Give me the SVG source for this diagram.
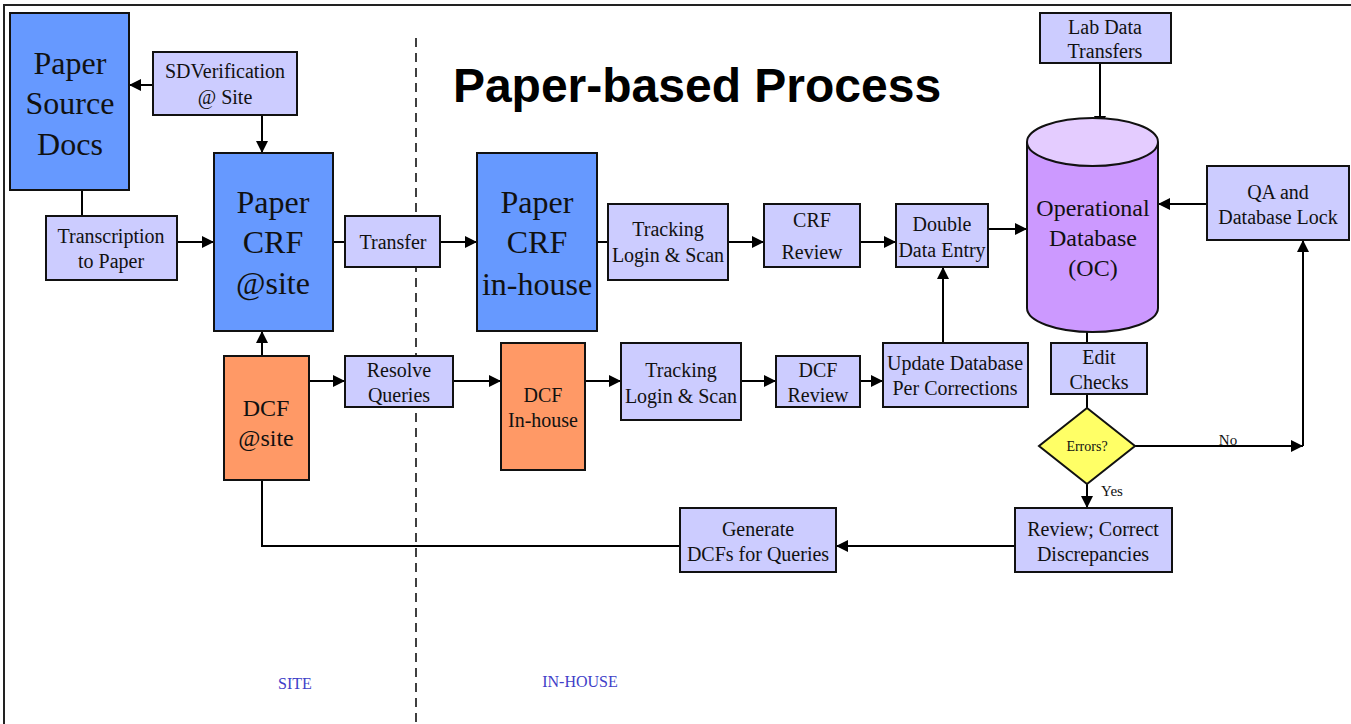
<svg xmlns="http://www.w3.org/2000/svg" width="1351" height="724" viewBox="0 0 1351 724">
  <style>
    .box { stroke: #111; stroke-width: 2; }
    .blue { fill: #6699ff; }
    .lav { fill: #ccccff; }
    .org { fill: #ff9966; }
    .lbl { font-family: "Liberation Serif", "Times New Roman", serif; fill: #111; text-anchor: middle; }
    .big { font-size: 32px; }
    .sm { font-size: 20px; }
    .md { font-size: 24px; }
    .con { fill: none; stroke: #000; stroke-width: 2; }
    .arr { marker-end: url(#ah); }
    .lane { font-family: "Liberation Serif", "Times New Roman", serif; font-size: 16px; fill: #4040c8; text-anchor: middle; }
  </style>
  <defs>
    <marker id="ah" viewBox="0 0 10 10" refX="10" refY="5" markerWidth="6" markerHeight="6" markerUnits="strokeWidth" orient="auto">
      <path d="M0,0 L10,5 L0,10 z" fill="#000"/>
    </marker>
  </defs>

  <rect width="1351" height="724" fill="#fff"/>
  <!-- frame -->
  <path d="M4,724 V5 H1351" fill="none" stroke="#222" stroke-width="2"/>
  <!-- site / in-house divider -->
  <line x1="416" y1="38" x2="416" y2="724" stroke="#111" stroke-width="1.6" stroke-dasharray="9,6"/>

  <text x="697" y="102" font-family="Liberation Sans, Arial, sans-serif" font-weight="bold" font-size="48" text-anchor="middle" fill="#000">Paper-based Process</text>

  <text class="lane" x="295" y="689">SITE</text>
  <text class="lane" x="580" y="687">IN-HOUSE</text>

  <!-- connectors -->
  <g id="connectors">
    <path class="con arr" d="M153,85 H129"/>
    <path class="con arr" d="M262,115 V153"/>
    <path class="con" d="M82,190 V216"/>
    <path class="con arr" d="M177,242 H214"/>
    <path class="con" d="M333,242 H345"/>
    <path class="con arr" d="M440,242 H477"/>
    <path class="con" d="M597,242 H608"/>
    <path class="con arr" d="M728,242 H764"/>
    <path class="con arr" d="M860,242 H896"/>
    <path class="con arr" d="M988,229 H1027"/>
    <path class="con arr" d="M1100,63 V128"/>
    <path class="con arr" d="M1207,204 H1158"/>
    <path class="con" d="M1087,331 V343"/>
    <path class="con" d="M1087,394 V408"/>
    <path class="con arr" d="M1135,446 H1303"/>
    <path class="con arr" d="M1303,446 V240"/>
    <path class="con arr" d="M1087,484 V508"/>
    <path class="con arr" d="M1015,546 H836"/>
    <path class="con" d="M680,546 H262 V480"/>
    <path class="con arr" d="M262,356 V331"/>
    <path class="con arr" d="M309,381 H345"/>
    <path class="con arr" d="M453,381 H501"/>
    <path class="con arr" d="M577,381 H621"/>
    <path class="con arr" d="M741,381 H776"/>
    <path class="con arr" d="M860,381 H883"/>
    <path class="con arr" d="M943,343 V267"/>
    <text class="lbl" x="1228" y="445" font-size="15">No</text>
    <text class="lbl" x="1112" y="496" font-size="15">Yes</text>
  </g>

  <g id="paper-source-docs">
    <rect class="box blue" x="10" y="13" width="119" height="177"/>
    <text class="lbl big" x="70" y="74">Paper</text>
    <text class="lbl big" x="70" y="114">Source</text>
    <text class="lbl big" x="70" y="155">Docs</text>
  </g>

  <g id="sdverification">
    <rect class="box lav" x="153" y="52" width="144" height="63"/>
    <text class="lbl sm" x="225" y="78">SDVerification</text>
    <text class="lbl sm" x="225" y="104">@ Site</text>
  </g>

  <g id="transcription">
    <rect class="box lav" x="46" y="216" width="131" height="64"/>
    <text class="lbl sm" x="111" y="243">Transcription</text>
    <text class="lbl sm" x="111" y="268">to Paper</text>
  </g>

  <g id="paper-crf-site">
    <rect class="box blue" x="214" y="153" width="119" height="178"/>
    <text class="lbl big" x="273" y="213">Paper</text>
    <text class="lbl big" x="273" y="253">CRF</text>
    <text class="lbl big" x="273" y="294">@site</text>
  </g>

  <g id="transfer">
    <rect class="box lav" x="345" y="216" width="95" height="51"/>
    <text class="lbl sm" x="393" y="249">Transfer</text>
  </g>

  <g id="paper-crf-inhouse">
    <rect class="box blue" x="477" y="153" width="120" height="178"/>
    <text class="lbl big" x="537" y="213">Paper</text>
    <text class="lbl big" x="537" y="253">CRF</text>
    <text class="lbl big" x="537" y="295">in-house</text>
  </g>

  <g id="tracking-crf">
    <rect class="box lav" x="608" y="204" width="120" height="76"/>
    <text class="lbl sm" x="668" y="236">Tracking</text>
    <text class="lbl sm" x="668" y="262">Login &amp; Scan</text>
  </g>

  <g id="crf-review">
    <rect class="box lav" x="764" y="204" width="96" height="63"/>
    <text class="lbl sm" x="812" y="227">CRF</text>
    <text class="lbl sm" x="812" y="259">Review</text>
  </g>

  <g id="double-data-entry">
    <rect class="box lav" x="896" y="204" width="92" height="63"/>
    <text class="lbl sm" x="942" y="231">Double</text>
    <text class="lbl sm" x="942" y="257">Data Entry</text>
  </g>

  <g id="lab-data">
    <rect class="box lav" x="1040" y="13" width="131" height="50"/>
    <text class="lbl sm" x="1105" y="34">Lab Data</text>
    <text class="lbl sm" x="1105" y="58">Transfers</text>
  </g>

  <g id="operational-db">
    <path class="box" fill="#cc99ff" d="M1027,142 V308 A65.5,24 0 0 0 1158,308 V142"/>
    <ellipse class="box" cx="1092.5" cy="142" rx="65.5" ry="24" fill="#e4ccff"/>
    <text class="lbl" font-size="24" x="1093" y="216">Operational</text>
    <text class="lbl" font-size="24" x="1093" y="246">Database</text>
    <text class="lbl" font-size="24" x="1093" y="276">(OC)</text>
  </g>

  <g id="qa-lock">
    <rect class="box lav" x="1207" y="166" width="142" height="74"/>
    <text class="lbl sm" x="1278" y="199">QA and</text>
    <text class="lbl sm" x="1278" y="224">Database Lock</text>
  </g>

  <g id="dcf-site">
    <rect class="box org" x="224" y="356" width="85" height="124"/>
    <text class="lbl md" x="266" y="416">DCF</text>
    <text class="lbl md" x="266" y="446">@site</text>
  </g>

  <g id="resolve-queries">
    <rect class="box lav" x="345" y="356" width="108" height="51"/>
    <text class="lbl sm" x="399" y="377">Resolve</text>
    <text class="lbl sm" x="399" y="402">Queries</text>
  </g>

  <g id="dcf-inhouse">
    <rect class="box org" x="501" y="343" width="84" height="127"/>
    <text class="lbl sm" x="543" y="402">DCF</text>
    <text class="lbl sm" x="543" y="427">In-house</text>
  </g>

  <g id="tracking-dcf">
    <rect class="box lav" x="621" y="343" width="120" height="77"/>
    <text class="lbl sm" x="681" y="377">Tracking</text>
    <text class="lbl sm" x="681" y="403">Login &amp; Scan</text>
  </g>

  <g id="dcf-review">
    <rect class="box lav" x="776" y="356" width="84" height="51"/>
    <text class="lbl sm" x="818" y="377">DCF</text>
    <text class="lbl sm" x="818" y="402">Review</text>
  </g>

  <g id="update-db">
    <rect class="box lav" x="883" y="343" width="145" height="64"/>
    <text class="lbl sm" x="955" y="370">Update Database</text>
    <text class="lbl sm" x="955" y="395">Per Corrections</text>
  </g>

  <g id="edit-checks">
    <rect class="box lav" x="1051" y="343" width="96" height="51"/>
    <text class="lbl sm" x="1099" y="364">Edit</text>
    <text class="lbl sm" x="1099" y="389">Checks</text>
  </g>

  <g id="errors">
    <polygon class="box" fill="#ffff66" points="1087,408 1135,446 1087,484 1039,446"/>
    <text class="lbl" font-size="14" x="1087" y="451">Errors?</text>
  </g>

  <g id="review-correct">
    <rect class="box lav" x="1015" y="508" width="157" height="64"/>
    <text class="lbl sm" x="1093" y="536">Review; Correct</text>
    <text class="lbl sm" x="1093" y="561">Discrepancies</text>
  </g>

  <g id="generate-dcfs">
    <rect class="box lav" x="680" y="508" width="156" height="64"/>
    <text class="lbl sm" x="758" y="536">Generate</text>
    <text class="lbl sm" x="758" y="561">DCFs for Queries</text>
  </g>
</svg>
